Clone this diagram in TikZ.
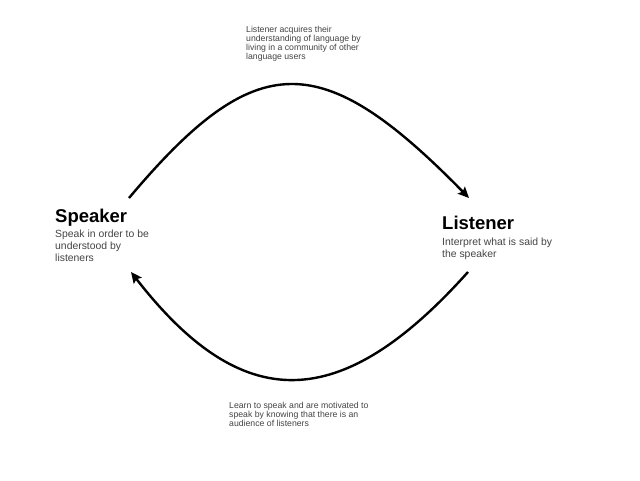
\documentclass[tikz,border=0pt]{standalone}
\usepackage{fontspec}
\setmainfont{Liberation Sans}
\usetikzlibrary{arrows.meta}
\definecolor{txtgray}{RGB}{68,68,68}
\tikzset{
  heading/.style={anchor=base west, inner sep=0pt, font=\fontsize{18.5}{22}\selectfont\bfseries, text=black},
  desc/.style={anchor=base west, inner sep=0pt, font=\fontsize{10.4}{12}\selectfont, text=txtgray},
  note/.style={anchor=base west, inner sep=0pt, font=\fontsize{8.7}{9.3}\selectfont, text=txtgray},
  arr/.style={line width=2.4pt, -{Stealth[length=11pt,width=10pt,inset=2pt]}}
}
\begin{document}
\begin{tikzpicture}[x=1pt,y=-1pt]
\useasboundingbox[fill=white] (0,0) rectangle (640,480);
% headings and descriptions
\node[heading] (spk) at (55,222) {Speaker};
\node[desc] (spkd) at (55,237.5) {\vtop{\hbox{Speak in order to be}\hbox{understood by}\hbox{listeners}}};
\node[heading] (lst) at (442,229) {Listener};
\node[desc] (lstd) at (442,245) {\vtop{\hbox{Interpret what is said by}\hbox{the speaker}}};
% notes
\node[note] (top) at (246,32) {\vtop{\hbox{Listener acquires their}\hbox{understanding of language by}\hbox{living in a community of other}\hbox{language users}}};
\node[note] (bot) at (229,408.3) {\vtop{\hbox{Learn to speak and are motivated to}\hbox{speak by knowing that there is an}\hbox{audience of listeners}}};
% connector end points
\coordinate (s1) at (129,198);
\coordinate (l1) at (469,198);
\coordinate (l2) at (468,272);
\coordinate (s2) at (131,272);
\draw[arr] (s1) .. controls (256,47) and (321,47) .. (l1);
\draw[arr] (l2) .. controls (340,415) and (242,415) .. (s2);
\end{tikzpicture}
\end{document}
